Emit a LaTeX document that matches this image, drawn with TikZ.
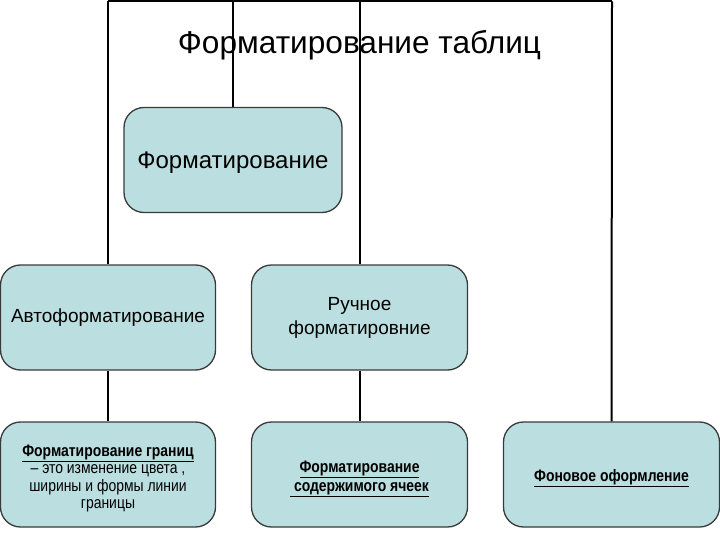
\documentclass[tikz,border=0pt]{standalone}
\usepackage{fontspec}
\setmainfont{Liberation Sans}
\newfontfamily\narrowfont[FakeStretch=0.84]{Liberation Sans}
\definecolor{boxfill}{HTML}{BBDFE0}
\definecolor{boxline}{HTML}{3A3A3A}
\begin{document}
\begin{tikzpicture}[x=1pt,y=-1pt,
  box/.style={draw=boxline,line width=1.3pt,fill=boxfill,rounded corners=20pt,
    minimum height=105pt,align=center,inner sep=2pt,text=black},
  btext/.style={align=center,inner sep=0pt,text=black,font=\narrowfont\fontsize{16.6}{17.2}\selectfont},
  conn/.style={draw=black,line width=2pt}]
\useasboundingbox (0,0) rectangle (720,540);
\node[box,minimum width=218pt,font=\fontsize{24}{28}\selectfont] (top) at (233,160) {\raisebox{-3pt}[\height][\depth]{Форматирование}};
\node[box,minimum width=215pt,font=\fontsize{19}{24}\selectfont] (auto) at (108,317.5) {Автоформатирование};
\node[box,minimum width=216pt,font=\fontsize{19}{24}\selectfont] (manual) at (359.5,317.5) {Ручное\\форматировние};
\node[box,minimum width=215pt] (b1) at (108,474.5) {};
\node[box,minimum width=216pt] (b2) at (359.5,474.5) {};
\node[box,minimum width=216pt] (b3) at (611.5,474.5) {};
\node[btext] (b1t) at ([yshift=-4pt]b1.center)
  {\textbf{\underline{Форматирование границ}}\\– это изменение цвета ,\\ширины и формы линии\\границы};
\node[btext,font=\narrowfont\fontsize{16.6}{19}\selectfont] (b2t) at ([yshift=-4pt]b2.center)
  {\textbf{\underline{Форматирование}}\\\textbf{\underline{\ содержимого ячеек}}};
\node[btext] (b3t) at ([yshift=-4pt]b3.center)
  {\textbf{\underline{Фоновое оформление}}};
\coordinate (tl) at (108,1.5);
\coordinate (tr) at (612,1.5);
\draw[conn] (tl) -- (tr);
\draw[conn] (tl) -- (auto.north);
\draw[conn] (top.north) -- (top.north |- tl);
\draw[conn] (manual.north) -- (manual.north |- tl);
\draw[conn] (tr) -- (b3.north);
\draw[conn] (auto.south) -- (b1.north);
\draw[conn] (manual.south) -- (b2.north);
\node[font=\fontsize{31.6}{36}\selectfont,inner sep=0pt] (title) at (359.5,45) {Форматирование таблиц};
\end{tikzpicture}
\end{document}
